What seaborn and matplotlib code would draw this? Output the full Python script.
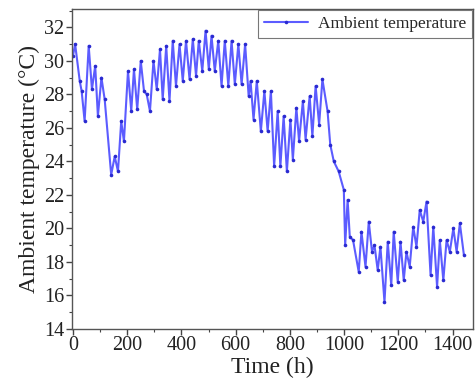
import matplotlib
matplotlib.use("Agg")
import matplotlib.pyplot as plt
from matplotlib.ticker import MultipleLocator
import seaborn as sns
import pandas as pd

# Turning points (daily peaks / troughs)
time_h = [0, 8, 25, 32, 43, 58, 70, 82, 92, 105, 117, 141, 154, 166, 178, 188,
          203, 215, 225, 237, 250, 262, 272, 284, 297, 309, 321, 331, 344, 356,
          368, 380, 393, 405, 417, 430, 442, 454, 464, 477, 489, 501, 511, 523,
          536, 548, 560, 573, 585, 597, 610, 622, 635, 648, 655, 666, 678, 693,
          706, 718, 730, 742, 755, 765, 777, 789, 802, 811, 824, 834, 848, 858,
          873, 883, 895, 908, 920, 939, 949, 962, 980, 999, 1004, 1013, 1021,
          1033, 1054, 1064, 1079, 1091, 1103, 1112, 1124, 1134, 1149, 1161,
          1174, 1183, 1198, 1208, 1220, 1230, 1242, 1255, 1267, 1279, 1292,
          1304, 1319, 1329, 1343, 1353, 1366, 1378, 1390, 1403, 1415, 1427,
          1442]
temp_c = [30.3, 31.0, 28.8, 28.2, 26.4, 30.9, 28.3, 29.7, 26.7, 29.0, 27.7,
          23.2, 24.3, 23.4, 26.4, 25.2, 29.4, 27.0, 29.5, 27.1, 30.0, 28.2,
          28.0, 27.0, 30.0, 28.3, 30.7, 27.7, 30.9, 27.6, 31.2, 28.5, 31.0,
          28.8, 31.2, 28.9, 31.3, 29.1, 31.2, 29.4, 31.8, 29.5, 31.5, 29.4,
          31.2, 28.5, 31.2, 28.5, 31.2, 28.6, 31.0, 28.6, 31.0, 27.9, 28.8,
          26.5, 28.8, 25.8, 28.2, 25.8, 28.2, 23.7, 27.0, 23.7, 26.7, 23.4,
          26.5, 24.1, 27.2, 25.2, 27.6, 25.3, 27.9, 25.5, 28.5, 26.2, 28.9,
          27.0, 25.0, 24.0, 23.4, 22.3, 19.0, 21.7, 19.5, 19.3, 17.4, 19.8,
          17.7, 20.4, 18.6, 19.0, 17.5, 18.9, 15.6, 19.2, 16.6, 19.8, 16.8,
          19.2, 16.9, 18.6, 17.7, 20.1, 18.9, 21.1, 20.4, 21.6, 17.2, 20.1,
          16.5, 19.3, 16.9, 19.3, 18.6, 20.0, 18.6, 20.3, 18.4]

series_name = "Ambient temperature"
x_label = "Time (h)"
y_label = "Ambient temperature (\u00b0C)"
x_ticks = [0, 200, 400, 600, 800, 1000, 1200, 1400]
y_ticks = [14, 16, 18, 20, 22, 24, 26, 28, 30, 32]

sns.set_style("ticks")
plt.rcParams["font.family"] = ["Liberation Serif", "DejaVu Serif"]

df = pd.DataFrame({"Time": time_h, "Temp": temp_c, "series": series_name})

fig = plt.figure(figsize=(4.76, 3.91), dpi=100)
ax = fig.add_axes([0.151, 0.159, 0.843, 0.818])

sns.lineplot(data=df, x="Time", y="Temp", hue="series", palette=["#5c5cff"],
             marker="o", markersize=2.6, markeredgewidth=0,
             markerfacecolor="#2a2ad0", linewidth=1.5, ax=ax, sort=False)

ax.set_xlim(-4, 1476)
ax.set_ylim(14, 33.1)
ax.set_xticks(x_ticks)
ax.set_yticks(y_ticks)
ax.xaxis.set_minor_locator(MultipleLocator(100))
ax.yaxis.set_minor_locator(MultipleLocator(1))
ax.tick_params(axis="both", which="major", direction="out", length=4,
               width=1, labelsize=14.5, pad=1.5, colors="#444444",
               labelcolor="#222222")
ax.tick_params(axis="both", which="minor", direction="out", length=2,
               width=0.8, colors="#444444")
for sp in ax.spines.values():
    sp.set_visible(True)
    sp.set_color("#555555")
    sp.set_linewidth(1.0)

ax.set_xlabel(x_label, fontsize=17, labelpad=1, color="#222222")
ax.set_ylabel(y_label, fontsize=17, labelpad=3, color="#222222")

leg = ax.legend(loc="upper right", fontsize=12.5, frameon=True, fancybox=False,
                borderpad=0.35, handlelength=2.5, handletextpad=0.6,
                borderaxespad=0.05, framealpha=1)
leg.get_frame().set_edgecolor("#777777")
leg.get_frame().set_linewidth(0.8)
leg.set_title(None)

fig.savefig("out.png", dpi=100)
